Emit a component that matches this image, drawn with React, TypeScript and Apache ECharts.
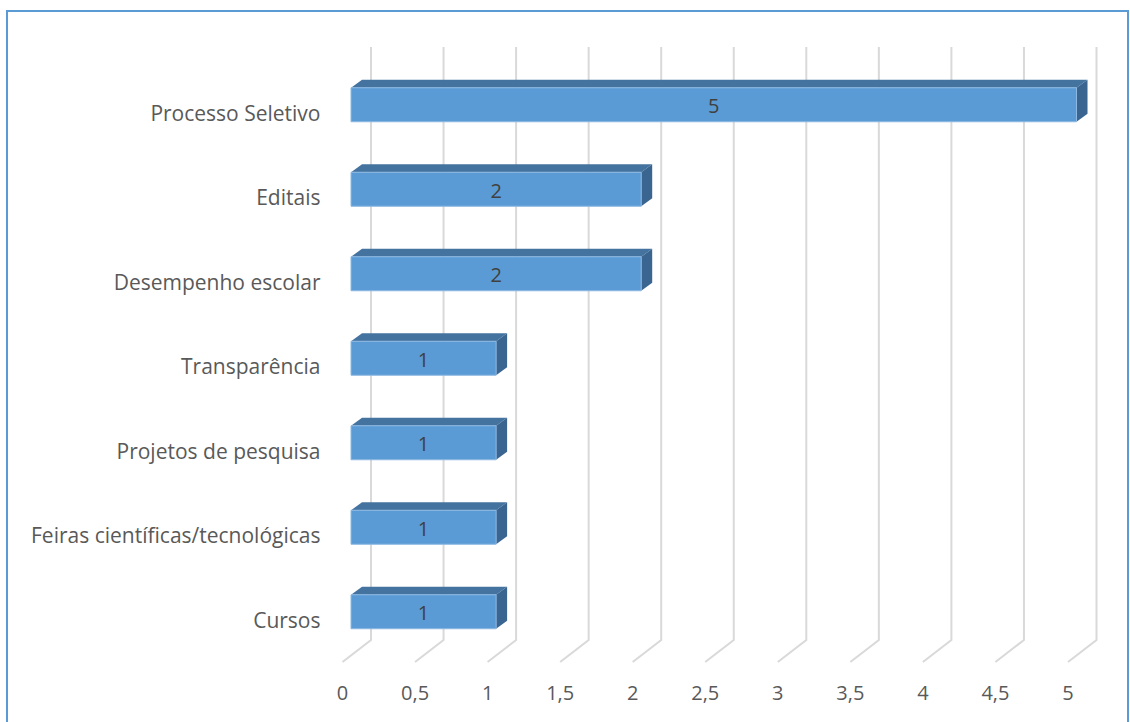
import React, { useEffect, useRef } from "react";
import * as echarts from "echarts";

const categories = [
  "Processo Seletivo",
  "Editais",
  "Desempenho escolar",
  "Transparência",
  "Projetos de pesquisa",
  "Feiras científicas/tecnológicas",
  "Cursos",
];
const values = [5, 2, 2, 1, 1, 1, 1];
const xTicks = [0, 0.5, 1, 1.5, 2, 2.5, 3, 3.5, 4, 4.5, 5];

const FONT = "'Open Sans', Lato, sans-serif";
const TEXT = "#595959";
const VTEXT = "#404040";

export default function App() {
  const ref = useRef<HTMLDivElement>(null);
  useEffect(() => {
    if (!ref.current) return;
    const chart = echarts.init(ref.current, null, { renderer: "svg" });
    const DEPTH_X = 28.5;
    const DEPTH_Y = -22;
    chart.setOption({
      animation: false,
      backgroundColor: "#ffffff",
      grid: { left: 342.5, right: 62, top: 70.5, bottom: 60, containLabel: false },
      xAxis: {
        type: "value",
        min: 0,
        max: 5,
        interval: 0.5,
        axisLine: { show: false },
        axisTick: { show: false },
        splitLine: { show: false },
        axisLabel: {
          fontSize: 20,
          fontFamily: FONT,
          color: TEXT,
          margin: 20,
          formatter: (v: number) => String(v).replace(".", ","),
        },
      },
      yAxis: {
        type: "category",
        inverse: true,
        data: categories,
        axisLine: { show: false },
        axisTick: { show: false },
        splitLine: { show: false },
        axisLabel: { fontSize: 21, fontFamily: FONT, color: TEXT, margin: 22 },
      },
      graphic: [
        {
          type: "rect",
          shape: { x: 7, y: 11, width: 1121, height: 730 },
          style: { fill: "none", stroke: "#5B9BD5", lineWidth: 2 },
          silent: true,
        },
      ],
      series: [
        {
          type: "custom",
          z: 1,
          clip: false,
          data: xTicks.map((t) => [t]),
          renderItem: (params: any, api: any) => {
            const cs = params.coordSys;
            const p = api.coord([api.value(0), 0]);
            const x = p[0];
            const bottom = cs.y + cs.height;
            const backTop = 47;
            const style = { stroke: "#D9D9D9", lineWidth: 2, fill: "none" };
            return {
              type: "group",
              children: [
                {
                  type: "polyline",
                  shape: {
                    points: [
                      [x + DEPTH_X, backTop],
                      [x + DEPTH_X, bottom + DEPTH_Y],
                      [x, bottom],
                    ],
                  },
                  style,
                },
              ],
            };
          },
        },
        {
          type: "custom",
          z: 2,
          clip: false,
          data: values.map((v, i) => [v, i]),
          renderItem: (params: any, api: any) => {
            const v = api.value(0);
            const idx = api.value(1);
            const p0 = api.coord([0, idx]);
            const p1 = api.coord([v, idx]);
            const off = 8.5;
            const xl = p0[0] + off;
            const xr = p1[0] + off;
            const yt = p0[1] - 25;
            const yb = p0[1] + 9;
            const dx = 11;
            const dy = -8;
            return {
              type: "group",
              children: [
                {
                  type: "polygon",
                  shape: {
                    points: [
                      [xl, yt],
                      [xl + dx, yt + dy],
                      [xr + dx, yt + dy],
                      [xr, yt],
                    ],
                  },
                  style: { fill: "#44739F" },
                },
                {
                  type: "polygon",
                  shape: {
                    points: [
                      [xr, yt],
                      [xr + dx, yt + dy],
                      [xr + dx, yb + dy],
                      [xr, yb],
                    ],
                  },
                  style: { fill: "#3A6590" },
                },
                {
                  type: "rect",
                  shape: { x: xl, y: yt, width: xr - xl, height: yb - yt },
                  style: { fill: "#5B9BD5", stroke: "#8DB8E2", lineWidth: 1 },
                },
                {
                  type: "text",
                  style: {
                    x: (xl + xr) / 2,
                    y: (yt + yb) / 2 + 1,
                    text: String(v),
                    fill: VTEXT,
                    fontSize: 20,
                    fontFamily: FONT,
                    align: "center",
                    verticalAlign: "middle",
                  },
                },
              ],
            };
          },
        },
      ],
    });
    return () => chart.dispose();
  }, []);
  return (
    <div
      ref={ref}
      style={{ position: "fixed", left: 0, top: 0, width: 1130, height: 722 }}
    />
  );
}
